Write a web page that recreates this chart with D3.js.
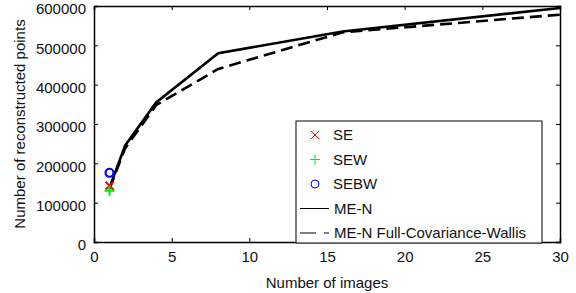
<!DOCTYPE html>
<html>
<head>
<meta charset="utf-8">
<script src="https://cdn.jsdelivr.net/npm/d3@7"></script>
<style>
body { margin: 0; background: #fff; }
text { font-family: "Liberation Sans", Arial, sans-serif; fill: #111; }
</style>
</head>
<body>
<script>
var w = 576, h = 293;
var margin = {left: 94, right: 16, top: 6, bottom: 51};
var fs = 15;

// data
var images = [1, 2, 4, 8, 16, 30];
var meN = [138000, 245000, 355000, 480000, 535000, 595000];
var meNFull = [135000, 238000, 348000, 440000, 533000, 578000];
var seX = [1], seY = [143000];
var sewX = [1], sewY = [130000];
var sebwX = [1], sebwY = [176000];
var xTicks = [0, 5, 10, 15, 20, 25, 30];
var yTicks = [0, 100000, 200000, 300000, 400000, 500000, 600000];

var svg = d3.select("body").append("svg").attr("width", w).attr("height", h);

var x = d3.scaleLinear().domain([0, 30]).range([margin.left, w - margin.right]);
var y = d3.scaleLinear().domain([0, 600000]).range([h - margin.bottom, margin.top]);

// axes, ticks inward on all sides
var gx = svg.append("g").attr("transform", "translate(0," + y(0) + ")")
    .call(d3.axisBottom(x).tickValues(xTicks).tickSize(-4).tickPadding(9).tickFormat(d3.format("d")));
var gxt = svg.append("g").attr("transform", "translate(0," + y(600000) + ")")
    .call(d3.axisTop(x).tickValues(xTicks).tickSize(-4).tickFormat(""));
var gy = svg.append("g").attr("transform", "translate(" + x(0) + ",0)")
    .call(d3.axisLeft(y).tickValues(yTicks).tickSize(-4).tickPadding(8).tickFormat(d3.format("d")));
var gyr = svg.append("g").attr("transform", "translate(" + x(30) + ",0)")
    .call(d3.axisRight(y).tickValues(yTicks).tickSize(-4).tickFormat(""));

[gx, gxt, gy, gyr].forEach(function (g) {
    g.select(".domain").attr("stroke", "#000").attr("stroke-width", 1.5);
    g.selectAll(".tick line").attr("stroke", "#000");
    g.selectAll("text").attr("font-size", fs).attr("fill", "#111")
        .attr("font-family", "Liberation Sans, Arial, sans-serif");
});
// y labels sit a little below their ticks
gy.selectAll(".tick text").attr("y", 3);

svg.append("text").attr("x", (x(0) + x(30)) / 2).attr("y", 288)
    .attr("text-anchor", "middle").attr("font-size", fs).text("Number of images");
svg.append("text").attr("transform", "translate(25," + (y(300000)) + ") rotate(-90)")
    .attr("text-anchor", "middle").attr("font-size", fs).text("Number of reconstructed points");

// lines
var line = d3.line().x(function (d) { return x(d[0]); }).y(function (d) { return y(d[1]); });
svg.append("path").datum(d3.zip(images, meN)).attr("d", line)
    .attr("fill", "none").attr("stroke", "#000").attr("stroke-width", 2.6);
svg.append("path").datum(d3.zip(images, meNFull)).attr("d", line)
    .attr("fill", "none").attr("stroke", "#000").attr("stroke-width", 2.6)
    .attr("stroke-dasharray", "12,6");

// markers
function cross(g, cx, cy, r, col, sw) {
    g.append("path").attr("d", "M" + (cx - r) + "," + (cy - r) + "L" + (cx + r) + "," + (cy + r) +
        "M" + (cx - r) + "," + (cy + r) + "L" + (cx + r) + "," + (cy - r))
        .attr("stroke", col).attr("stroke-width", sw).attr("fill", "none");
}
function plus(g, cx, cy, r, col, sw) {
    g.append("path").attr("d", "M" + (cx - r) + "," + cy + "L" + (cx + r) + "," + cy +
        "M" + cx + "," + (cy - r) + "L" + cx + "," + (cy + r))
        .attr("stroke", col).attr("stroke-width", sw).attr("fill", "none");
}
function circ(g, cx, cy, r, col, sw) {
    g.append("circle").attr("cx", cx).attr("cy", cy).attr("r", r)
        .attr("stroke", col).attr("stroke-width", sw).attr("fill", "none");
}
var red = "#ff0000", green = "#00ee00", blue = "#0000ff";
seX.forEach(function (d, i) { cross(svg, x(d), y(seY[i]), 4, red, 2); });
sewX.forEach(function (d, i) { plus(svg, x(d), y(sewY[i]), 5, green, 2); });
sebwX.forEach(function (d, i) { circ(svg, x(d), y(sebwY[i]), 4, blue, 2.2); });

// legend
var lg = svg.append("g");
lg.append("rect").attr("x", 296).attr("y", 121).attr("width", 246).attr("height", 122)
    .attr("fill", "#fff").attr("stroke", "#000").attr("stroke-width", 1);
var rows = [135, 159.5, 184, 208.5, 233];
var names = ["SE", "SEW", "SEBW", "ME-N", "ME-N Full-Covariance-Wallis"];
cross(lg, 315, rows[0], 4, red, 1);
plus(lg, 315, rows[1], 5, green, 1);
circ(lg, 315, rows[2], 4, blue, 1);
lg.append("line").attr("x1", 300).attr("x2", 329).attr("y1", rows[3]).attr("y2", rows[3])
    .attr("stroke", "#000").attr("stroke-width", 1);
lg.append("line").attr("x1", 300).attr("x2", 329).attr("y1", rows[4]).attr("y2", rows[4])
    .attr("stroke", "#000").attr("stroke-width", 1).attr("stroke-dasharray", "16,8");
names.forEach(function (n, i) {
    lg.append("text").attr("x", i < 3 ? 333 : 334).attr("y", rows[i]).attr("dy", "0.35em")
        .attr("font-size", fs).text(n);
});
</script>
</body>
</html>
